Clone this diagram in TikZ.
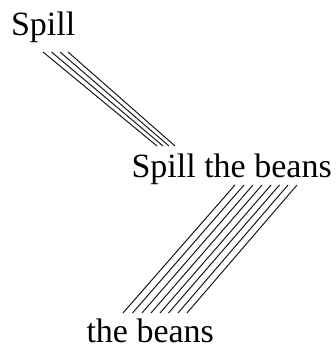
\documentclass[tikz,border=0pt]{standalone}
\usepackage{fontspec}
\setmainfont{Liberation Serif}
\begin{document}
\begin{tikzpicture}[x=1pt,y=1pt,
  word/.style={anchor=base west,inner sep=0pt,outer sep=0pt,font=\fontsize{34}{40}\selectfont},
  strand/.style={line width=1pt,black!90}]
\useasboundingbox (0,0) rectangle (335,350);
\node[word] (spill) at (11,314) {Spill};
\node[word] (stb) at (131.5,172) {Spill the beans};
\node[word] (beans) at (86.5,7) {the beans};
% bundle from Spill to Spill the beans
\foreach \xa/\xb in {43/157,51.5/163,60/169,68/175}{
  \draw[strand] (\xa,298) -- (\xb,204);
}
% bundle from Spill the beans to the beans
\foreach \xa/\xb in {235/123,244/132.5,253/142,262/151,271/160,279.5/168.5,288/178,297/187}{
  \draw[strand] (\xa,165) -- (\xb,37);
}
\end{tikzpicture}
\end{document}
